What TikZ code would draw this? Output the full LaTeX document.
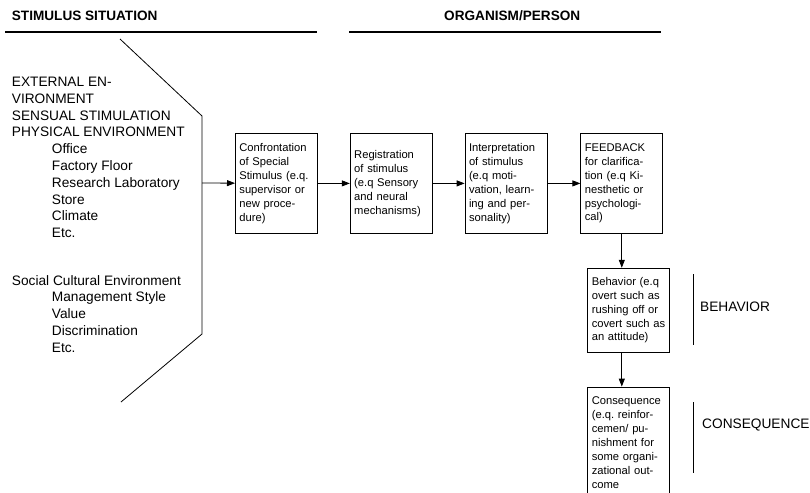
\documentclass[tikz,border=0pt]{standalone}
\usepackage{fontspec}
\setmainfont{Liberation Sans}
\frenchspacing
\usetikzlibrary{positioning,arrows.meta}

\begin{document}
\begin{tikzpicture}[x=1pt, y=-1pt, node distance=32pt,
  stage/.style={rectangle, draw=black, line width=0.8pt, minimum width=82pt, minimum height=100pt, text width=74pt, inner xsep=4pt, align=left, font=\fontsize{11.2}{13.9}\selectfont},
  heading/.style={anchor=base west, inner sep=0pt, font=\fontsize{13.6}{16}\selectfont\bfseries},
  envtext/.style={anchor=north west, inner sep=0pt, align=left, font=\fontsize{13.7}{16.8}\selectfont},
  sidelabel/.style={anchor=base west, inner sep=0pt, font=\fontsize{13.7}{16.8}\selectfont},
  flow/.style={->, line width=0.8pt},
  >={Triangle[length=8pt,width=6pt]}]
\useasboundingbox (0,0) rectangle (810,492);

% headings
\node (stimhead) [heading] at (11.7,21) {STIMULUS SITUATION};
\node (orghead) [heading] at (444,21) {ORGANISM/PERSON};
\draw[line width=1.2pt] (5,32) -- (317,32);
\draw[line width=1.2pt] (349,32) -- (661,32);

% stimulus side
\node (physical) [envtext] at (11.7,76.8) {EXTERNAL EN-\\ VIRONMENT\\ SENSUAL STIMULATION\\ PHYSICAL ENVIRONMENT\\
  \hspace*{40pt}Office\\ \hspace*{40pt}Factory Floor\\ \hspace*{40pt}Research Laboratory\\ \hspace*{40pt}Store\\ \hspace*{40pt}Climate\\ \hspace*{40pt}Etc.};
\node (social) [envtext] at (11.7,275) {Social Cultural Environment\\
  \hspace*{40pt}Management Style\\ \hspace*{40pt}Value\\ \hspace*{40pt}Discrimination\\ \hspace*{40pt}Etc.};
\draw[line width=0.8pt] (120,39) -- (202,116) -- (202,334) -- (121,402);
\coordinate (bracket) at (202,183);

% organism side
\node (confront) [stage, anchor=north west] at (235,133) {Confrontation\\ of Special\\ Stimulus (e.q.\\ supervisor or\\ new proce-\\ dure)};
\node (register) [stage, right=of confront] {Registration\\ of stimulus\\ (e.q Sensory\\ and neural\\ mechanisms)};
\node (interpret) [stage, right=of register] {Interpretation\\ of stimulus\\ (e.q moti-\\ vation, learn-\\ ing and per-\\ sonality)};
\node (feedback) [stage, right=33pt of interpret] {FEEDBACK\\ for clarifica-\\ tion (e.q Ki-\\ nesthetic or\\ psychologi-\\ cal)};
\node (behavior) [stage, minimum height=84pt, below=34pt of feedback, xshift=7pt] {Behavior (e.q\\ overt such as\\ rushing off or\\ covert such as\\ an attitude)};
\node (conseq) [stage, minimum height=111pt, below=34pt of behavior] {Consequence\\ (e.q. reinfor-\\ cemen/ pu-\\ nishment for\\ some organi-\\ zational out-\\ come};

\draw[flow] (bracket) -- (confront);
\draw[flow] (confront) -- (register);
\draw[flow] (register) -- (interpret);
\draw[flow] (interpret) -- (feedback);
\draw[flow] (feedback) -- (feedback |- behavior.north);
\draw[flow] (feedback.south |- behavior.south) -- (feedback.south |- conseq.north);

% outcome labels
\draw[line width=0.8pt] (693,274) -- (693,345);
\node (behlabel) [sidelabel] at (700,311) {BEHAVIOR};
\draw[line width=0.8pt] (693,402) -- (693,473);
\node (conlabel) [sidelabel] at (702,428) {CONSEQUENCE};

\end{tikzpicture}
\end{document}
